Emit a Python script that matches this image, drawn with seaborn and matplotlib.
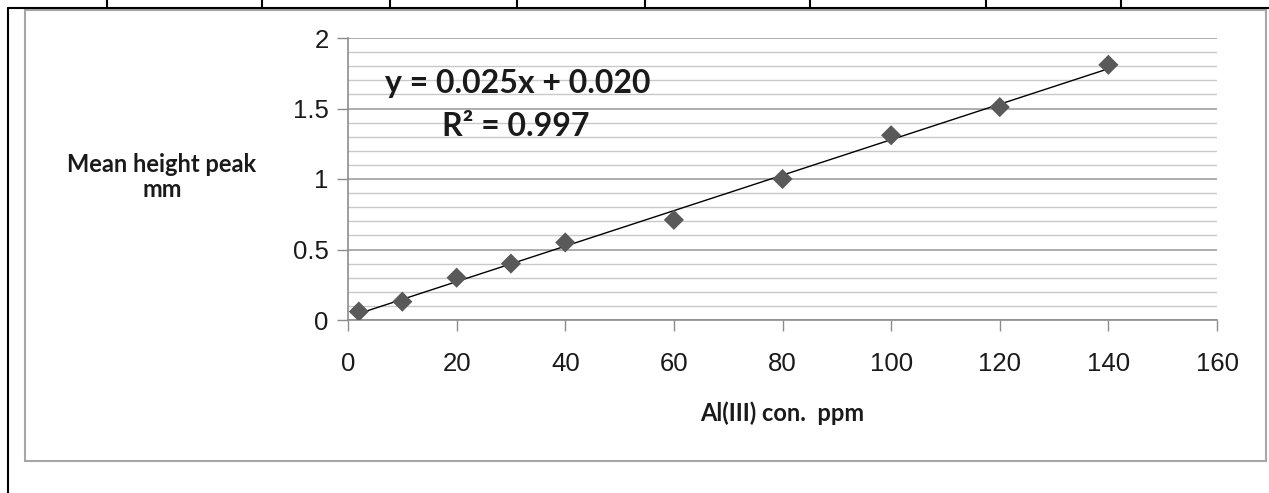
import numpy as np
import pandas as pd
import matplotlib.pyplot as plt
import seaborn as sns
from matplotlib.lines import Line2D
from matplotlib.patches import Rectangle
from matplotlib.ticker import MultipleLocator, FuncFormatter

# Calibration data
conc = [2, 10, 20, 30, 40, 60, 80, 100, 120, 140]
height = [0.06, 0.13, 0.30, 0.40, 0.55, 0.71, 1.00, 1.31, 1.51, 1.81]
x_ticks = [0, 20, 40, 60, 80, 100, 120, 140, 160]
y_ticks = [0, 0.5, 1, 1.5, 2]
eq_text = "y = 0.025x + 0.020"
r2_text = "R\u00b2 = 0.997"
x_label = "Al(III) con.  ppm"
y_label = "Mean height peak\nmm"

df = pd.DataFrame({"conc": conc, "height": height})

W, H = 1269, 493
sns.set_theme(style="white")
plt.rcParams['font.family'] = ['Liberation Sans', 'DejaVu Sans']
bold_font = ["Lato", "DejaVu Sans"]

fig = plt.figure(figsize=(W / 100, H / 100), dpi=100)
fig.patch.set_facecolor("white")

# table lines around the chart (page layout)
line_kw = dict(transform=fig.transFigure, color="black", lw=1.5)
fig.add_artist(Line2D([8 / W, 1], [1 - 8 / H, 1 - 8 / H], **line_kw))
fig.add_artist(Line2D([8 / W, 8 / W], [0, 1 - 8 / H], **line_kw))
for px in [107, 262, 390, 517, 645, 810, 986, 1121]:
    fig.add_artist(Line2D([px / W, px / W], [1 - 8 / H, 1], **line_kw))

# chart frame
fig.add_artist(Rectangle((25 / W, 1 - 461 / H), (1266 - 25) / W, (461 - 10) / H,
                         transform=fig.transFigure, fill=False,
                         ec="#a6a6a6", lw=1.5))

ax = fig.add_axes([348 / W, 1 - 320 / H, (1217 - 348) / W, (320 - 38) / H])

sns.regplot(data=df, x="conc", y="height", ax=ax, ci=None, marker="D",
            scatter_kws=dict(s=105, color="#595959", edgecolor="none", zorder=3, alpha=1),
            line_kws=dict(color="black", lw=1, zorder=2))

ax.set_xlim(0, 160)
ax.set_ylim(0, 2)
ax.set_xticks(x_ticks)
ax.set_yticks(y_ticks)
ax.yaxis.set_minor_locator(MultipleLocator(0.1))
ax.yaxis.set_major_formatter(FuncFormatter(lambda v, p: f"{v:g}"))

ax.grid(which="minor", axis="y", color="#c8c8c8", lw=1)
ax.grid(which="major", axis="y", color="#a0a0a0", lw=1.2)
ax.set_axisbelow(True)

for side in ["top", "right"]:
    ax.spines[side].set_visible(False)
for side in ["left", "bottom"]:
    ax.spines[side].set_color("#8c8c8c")
    ax.spines[side].set_linewidth(1.2)

ax.tick_params(axis="x", which="major", direction="out", length=8, width=1,
               color="#8c8c8c", labelsize=18.5, pad=15, labelcolor="#1a1a1a", bottom=True)
ax.tick_params(axis="y", which="major", direction="out", length=8, width=1,
               color="#8c8c8c", labelsize=18.5, pad=6, labelcolor="#1a1a1a", left=True)
ax.tick_params(axis="y", which="minor", length=0)

ax.set_xlabel("")
ax.set_ylabel("")

fig.text(782 / W, 1 - 413 / H, x_label, ha="center", va="center",
         fontsize=17, fontweight="bold", family=bold_font, color="#1a1a1a")
fig.text(162 / W, 1 - 177 / H, y_label, ha="center", va="center",
         fontsize=17, fontweight="bold", family=bold_font, color="#1a1a1a",
         linespacing=1.15)

fig.text(518 / W, 1 - 83 / H, eq_text, ha="center", va="center",
         fontsize=23, fontweight="bold", family=bold_font, color="#1a1a1a")
fig.text(516 / W, 1 - 127 / H, r2_text, ha="center", va="center",
         fontsize=23, fontweight="bold", family=bold_font, color="#1a1a1a")

fig.savefig("out.png", dpi=100, facecolor="white")
